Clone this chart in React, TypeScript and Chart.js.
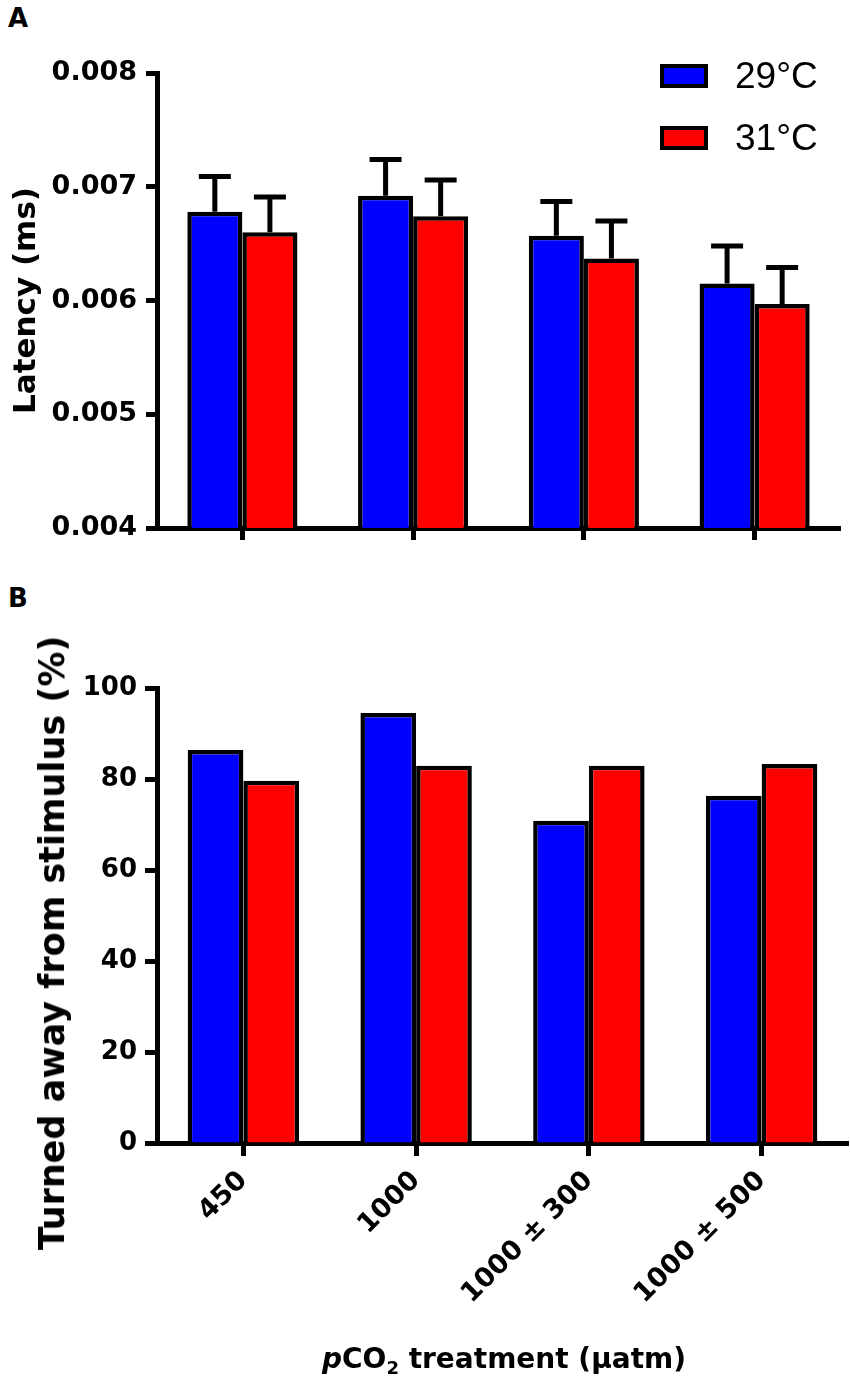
import { useEffect, useRef } from "react";
import { Chart, registerables } from "chart.js";

Chart.register(...registerables);

// categories shared by both panels
const categories = ["450", "1000", "1000 ± 300", "1000 ± 500"];
const seriesLabels = ["29°C", "31°C"];
const seriesColors = ["#0000ff", "#ff0000"];

// panel A: latency (ms), mean + upper error
const latency29 = [0.00678, 0.00692, 0.00657, 0.00615];
const latency31 = [0.0066, 0.00674, 0.00637, 0.00597];
const latencyErr29 = [0.00031, 0.00032, 0.0003, 0.00033];
const latencyErr31 = [0.00031, 0.00032, 0.00033, 0.00032];
const latencyTicks = [0.004, 0.005, 0.006, 0.007, 0.008];

// panel B: turned away from stimulus (%)
const turned29 = [86.4, 94.5, 70.8, 76.3];
const turned31 = [79.6, 82.9, 82.9, 83.3];
const turnedTicks = [0, 20, 40, 60, 80, 100];

const boldFamily = "'DejaVu Sans', sans-serif";
const plainFamily = "'Liberation Sans', Arial, sans-serif";

Chart.defaults.font.family = boldFamily;
Chart.defaults.color = "#000";

// draws the upper error whisker + cap on every bar
const errorBarPlugin = {
    id: "errorBars",
    afterDatasetsDraw(chart: any, _args: any, opts: any) {
        const errors: number[][] = opts.errors;
        if (!errors) return;
        const ctx = chart.ctx;
        const yScale = chart.scales.y;
        ctx.save();
        ctx.strokeStyle = "#000";
        ctx.lineWidth = opts.lineWidth;
        chart.data.datasets.forEach((ds: any, i: number) => {
            const meta = chart.getDatasetMeta(i);
            meta.data.forEach((bar: any, j: number) => {
                const top = yScale.getPixelForValue(ds.data[j] + errors[i][j]);
                ctx.beginPath();
                ctx.moveTo(bar.x, bar.y);
                ctx.lineTo(bar.x, top);
                ctx.moveTo(bar.x - opts.capWidth / 2, top);
                ctx.lineTo(bar.x + opts.capWidth / 2, top);
                ctx.stroke();
            });
        });
        ctx.restore();
    },
};

function barDataset(label: string, data: number[], color: string) {
    return {
        label,
        data,
        backgroundColor: color,
        borderColor: "#000",
        borderWidth: 4.5,
        borderSkipped: "start",
        categoryPercentage: 0.645,
        barPercentage: 1,
    };
}

const axisBorder = { display: true, color: "#000", width: 5 };

export default function App() {
    const refA = useRef<HTMLCanvasElement | null>(null);
    const refB = useRef<HTMLCanvasElement | null>(null);

    useEffect(() => {
        const chartA = new Chart(refA.current as any, {
            type: "bar",
            data: {
                labels: categories,
                datasets: [
                    barDataset(seriesLabels[0], latency29, seriesColors[0]),
                    barDataset(seriesLabels[1], latency31, seriesColors[1]),
                ] as any,
            },
            options: {
                animation: false,
                responsive: true,
                maintainAspectRatio: false,
                layout: { padding: { top: 73, right: 10, bottom: 0, left: 0 } },
                plugins: {
                    legend: { display: false },
                    tooltip: { enabled: false },
                    errorBars: { errors: [latencyErr29, latencyErr31], capWidth: 32, lineWidth: 5 },
                } as any,
                scales: {
                    x: {
                        offset: true,
                        afterFit: (s: any) => { s.height = 42; },
                        border: axisBorder,
                        grid: { offset: false, drawOnChartArea: false, drawTicks: true, tickLength: 12, tickWidth: 5, tickColor: "#000" },
                        ticks: { display: false },
                    },
                    y: {
                        min: 0.004,
                        max: 0.008,
                        afterBuildTicks: (s: any) => { s.ticks = latencyTicks.map(v => ({ value: v })); },
                        afterFit: (s: any) => { s.width = 157; },
                        border: axisBorder,
                        grid: { drawOnChartArea: false, drawTicks: true, tickLength: 11, tickWidth: 5, tickColor: "#000" },
                        ticks: {
                            color: "#000",
                            padding: 9,
                            font: { family: boldFamily, size: 27, weight: "bold" },
                            callback: (v: any) => Number(v).toFixed(3),
                        },
                        title: {
                            display: true,
                            text: "Latency (ms)",
                            color: "#000",
                            font: { family: boldFamily, size: 31, weight: "bold" },
                            padding: { top: 8, bottom: 0 },
                        },
                    },
                },
            } as any,
            plugins: [errorBarPlugin as any],
        });

        const chartB = new Chart(refB.current as any, {
            type: "bar",
            data: {
                labels: categories,
                datasets: [
                    barDataset(seriesLabels[0], turned29, seriesColors[0]),
                    barDataset(seriesLabels[1], turned31, seriesColors[1]),
                ] as any,
            },
            options: {
                animation: false,
                responsive: true,
                maintainAspectRatio: false,
                layout: { padding: { top: 118, right: 2, bottom: 0, left: 0 } },
                plugins: { legend: { display: false }, tooltip: { enabled: false } },
                scales: {
                    x: {
                        offset: true,
                        afterFit: (s: any) => { s.height = 236; },
                        border: axisBorder,
                        grid: { offset: false, drawOnChartArea: false, drawTicks: true, tickLength: 13, tickWidth: 5, tickColor: "#000" },
                        ticks: {
                            color: "#000",
                            minRotation: 45,
                            maxRotation: 45,
                            padding: 9,
                            font: { family: boldFamily, size: 27, weight: "bold" },
                        },
                    },
                    y: {
                        min: 0,
                        max: 100,
                        afterBuildTicks: (s: any) => { s.ticks = turnedTicks.map(v => ({ value: v })); },
                        afterFit: (s: any) => { s.width = 157; },
                        border: axisBorder,
                        grid: { drawOnChartArea: false, drawTicks: true, tickLength: 12, tickWidth: 5, tickColor: "#000" },
                        ticks: {
                            color: "#000",
                            padding: 8,
                            font: { family: boldFamily, size: 26, weight: "bold" },
                        },
                    },
                },
            } as any,
        });

        return () => {
            chartA.destroy();
            chartB.destroy();
        };
    }, []);

    const panelLetter = { position: "absolute", left: 8, fontFamily: boldFamily, fontWeight: "bold", fontSize: 26, lineHeight: "26px" } as const;

    return (
        <div style={{ position: "absolute", left: 0, top: 0, width: 850, height: 1379, background: "#fff", overflow: "hidden" }}>
            <div style={{ ...panelLetter, top: 5 }}>A</div>
            <div style={{ ...panelLetter, top: 585 }}>B</div>

            <div style={{ position: "absolute", left: 0, top: 0, width: 850, height: 570 }}>
                <canvas ref={refA} />
            </div>

            {/* legend for both panels */}
            {seriesLabels.map((label, i) => (
                <div key={label} style={{ position: "absolute", left: 660, top: 62 + i * 62, height: 28, display: "flex", alignItems: "center" }}>
                    <div style={{ width: 40, height: 16, background: seriesColors[i], border: "4px solid #000" }} />
                    <span style={{ marginLeft: 27, fontFamily: plainFamily, fontSize: 37, lineHeight: "28px" }}>{label}</span>
                </div>
            ))}

            <div style={{ position: "absolute", left: 0, top: 570, width: 850, height: 809 }}>
                <canvas ref={refB} />
            </div>

            <div style={{
                position: "absolute", left: 52, top: 943, transform: "translate(-50%, -50%) rotate(-90deg)",
                whiteSpace: "nowrap", fontFamily: boldFamily, fontWeight: "bold", fontSize: 35,
            }}>
                Turned away from stimulus (%)
            </div>

            <div style={{
                position: "absolute", left: 504, top: 1360, transform: "translate(-50%, -50%)",
                whiteSpace: "nowrap", fontFamily: boldFamily, fontWeight: "bold", fontSize: 28,
            }}>
                <i>p</i>CO<sub style={{ fontSize: 18 }}>2</sub> treatment (μatm)
            </div>
        </div>
    );
}
